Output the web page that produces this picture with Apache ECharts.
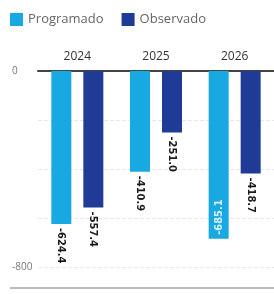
<!DOCTYPE html>
<html lang="es">
<head>
  <meta charset="utf-8">
  <title>Programado vs Observado</title>
  <script src="https://cdn.jsdelivr.net/npm/echarts@6/dist/echarts.min.js"></script>
  <style>
    html, body { margin: 0; padding: 0; background: #fff; }
    #chart { width: 274px; height: 294px; }
  </style>
</head>
<body>
<div id="chart"></div>
<script type="text/javascript">
// datos
var years = ['2024', '2025', '2026'];
var programado = [-624.4, -410.9, -685.1];
var observado = [-557.4, -251.0, -418.7];
var yTicks = [0, -800];

var chart = echarts.init(document.getElementById('chart'));

function barLabel(v) {
  return v.toFixed(1);
}

// etiqueta de -685.1 va dentro de la barra
var progData = programado.map(function (v, i) {
  if (i === 2) {
    return {
      value: v,
      label: {
        position: 'insideBottom',
        rotate: 90,
        align: 'left',
        verticalAlign: 'middle',
        distance: 4,
        color: '#d6f2ff'
      }
    };
  }
  return v;
});

var labelStyle = {
  show: true,
  position: 'bottom',
  rotate: -90,
  align: 'left',
  verticalAlign: 'middle',
  distance: 4,
  color: '#1a1a1a',
  fontSize: 11,
  fontWeight: 'bold',
  fontFamily: 'DejaVu Sans Condensed',
  formatter: function (p) { return barLabel(p.value); }
};

var option = {
  animation: false,
  textStyle: { fontFamily: 'Open Sans' },
  legend: {
    left: 10,
    top: 13,
    padding: 0,
    itemWidth: 13,
    itemHeight: 13,
    itemGap: 18,
    icon: 'rect',
    textStyle: { color: '#666', fontSize: 13 },
    data: ['Programado', 'Observado']
  },
  grid: { left: 38, right: -4, top: 71, bottom: 27 },
  xAxis: {
    type: 'category',
    position: 'top',
    data: years,
    axisLine: { lineStyle: { color: '#444', width: 2 } },
    axisTick: { show: false },
    axisLabel: { color: '#333', fontSize: 12, margin: 8 }
  },
  yAxis: {
    type: 'value',
    min: -800,
    max: 0,
    interval: 200,
    axisLine: { show: false },
    axisTick: { show: false },
    axisLabel: {
      color: '#777',
      fontSize: 10,
      align: 'left',
      margin: 26,
      formatter: function (v) {
        return yTicks.indexOf(v) >= 0 ? String(v) : '';
      }
    },
    splitLine: { lineStyle: { color: '#e8e8e8', type: 'dashed' } }
  },
  graphic: [
    { type: 'rect', left: 10, bottom: 5, shape: { width: 264, height: 2 }, style: { fill: '#bbb' } }
  ],
  series: [
    {
      name: 'Programado',
      type: 'bar',
      data: progData,
      barWidth: 20,
      barGap: '60%',
      itemStyle: { color: '#19a9e2' },
      label: labelStyle
    },
    {
      name: 'Observado',
      type: 'bar',
      data: observado,
      barWidth: 20,
      itemStyle: { color: '#1f3b95' },
      label: labelStyle
    }
  ]
};

chart.setOption(option);
</script>
</body>
</html>
